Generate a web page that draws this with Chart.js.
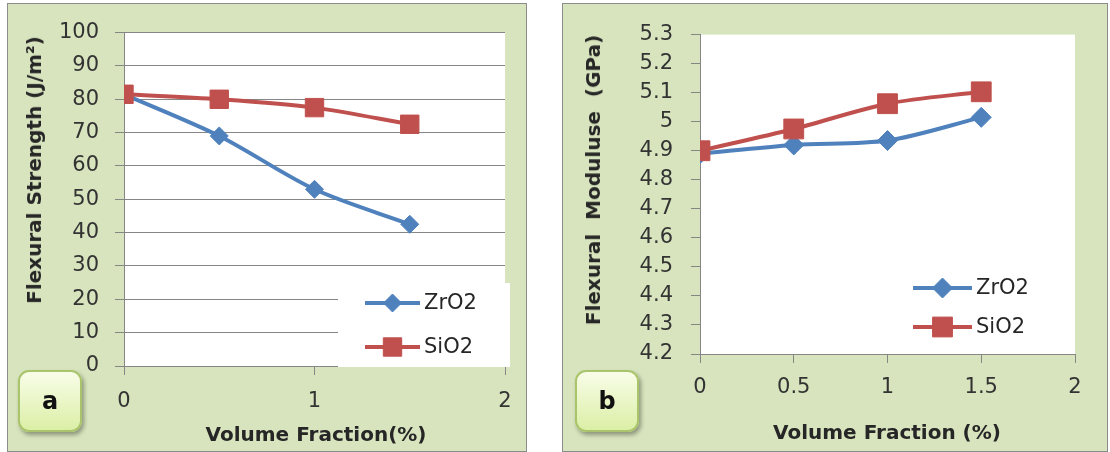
<!DOCTYPE html>
<html>
<head>
<meta charset="utf-8">
<script src="https://cdn.jsdelivr.net/npm/chart.js@4.4.0/dist/chart.umd.min.js"></script>
<style>
  body { margin: 0; width: 1110px; height: 452px; background: #fff; position: relative; overflow: hidden; font-family: "DejaVu Sans", sans-serif; }
  .panel { position: absolute; background: #D7E4BD; border: 1px solid #8c8c8c; box-sizing: border-box; }
  #pa { left: 7px; top: 3px; width: 520px; height: 449px; }
  #pb { left: 562px; top: 3px; width: 546px; height: 449px; }
  canvas { position: absolute; }
  .badge { position: absolute; width: 64px; height: 62px; border: 2px solid #a9c46a; border-radius: 11px; box-sizing: border-box;
           background: linear-gradient(#f8fde8, #dbefa6); box-shadow: 2px 3px 4px rgba(0,0,0,0.35);
           font: bold 24px "DejaVu Sans", sans-serif; color: #111; display: flex; align-items: center; justify-content: center; }
  .ytitle, .xtitle { position: absolute; white-space: pre; font: bold 20px "DejaVu Sans", sans-serif; color: #262626; }
  .ytitle { transform: translate(-50%, -50%) rotate(-90deg); }
  .xtitle { transform: translate(-50%, -50%); }
</style>
</head>
<body>
<div class="panel" id="pa"></div>
<div class="panel" id="pb"></div>
<canvas id="chartA" width="518" height="447" style="left:8px;top:4px"></canvas>
<canvas id="chartB" width="544" height="447" style="left:563px;top:4px"></canvas>

<div class="ytitle" style="left:34px;top:170px">Flexural Strength (J/m²)</div>
<div class="xtitle" style="left:316px;top:434px">Volume Fraction(%)</div>
<div class="ytitle" style="left:593px;top:180px">Flexural  Moduluse  (GPa)</div>
<div class="xtitle" style="left:887px;top:432px">Volume Fraction (%)</div>
<div class="badge" style="left:18px;top:370px">a</div>
<div class="badge" style="left:575px;top:370px">b</div>

<script>
// data
const xFraction = [0, 0.5, 1, 1.5];
const seriesNames = ['ZrO2', 'SiO2'];
const strengthZrO2 = [81.5, 69, 53, 42.5];
const strengthSiO2 = [81.5, 80, 77.5, 72.5];
const modulusZrO2 = [4.89, 4.92, 4.935, 5.015];
const modulusSiO2 = [4.9, 4.975, 5.062, 5.103];

const BLUE = '#4F81BD';
const RED = '#C0504D';
const AXIS = '#868686';

// white plot area
const plotBg = {
  id: 'plotBg',
  beforeDraw(chart) {
    const a = chart.chartArea, ctx = chart.ctx;
    ctx.save();
    ctx.fillStyle = '#fff';
    ctx.fillRect(a.left, a.top, a.right - a.left, a.bottom - a.top);
    ctx.restore();
  }
};

// legend drawn inside the plot, like the Excel one
const insideLegend = {
  id: 'insideLegend',
  afterDraw(chart, args, opts) {
    const ctx = chart.ctx;
    ctx.save();
    if (opts.box) {
      ctx.fillStyle = '#fff';
      ctx.fillRect(opts.box.left, opts.box.top, opts.box.width, opts.box.height);
    }
    chart.data.datasets.forEach((ds, i) => {
      const y = opts.rows[i];
      ctx.strokeStyle = ds.borderColor;
      ctx.fillStyle = ds.backgroundColor;
      ctx.lineWidth = ds.borderWidth;
      ctx.beginPath();
      ctx.moveTo(opts.x, y);
      ctx.lineTo(opts.x + opts.lineLength, y);
      ctx.stroke();
      ctx.lineWidth = 1;
      Chart.helpers.drawPoint(ctx, { pointStyle: ds.pointStyle, radius: ds.pointRadius, rotation: 0, borderWidth: 1 },
        opts.x + opts.lineLength / 2, y);
      ctx.fillStyle = '#262626';
      ctx.font = '21px "DejaVu Sans"';
      ctx.textBaseline = 'middle';
      ctx.fillText(ds.label, opts.x + opts.lineLength + 4, y + 1);
    });
    ctx.restore();
  }
};

function series(label, values, color, style, radius, order) {
  return {
    label: label,
    data: xFraction.map((x, i) => ({ x: x, y: values[i] })),
    borderColor: color,
    backgroundColor: color,
    borderWidth: 4,
    pointStyle: style,
    pointRadius: radius,
    pointBorderWidth: 1,
    tension: 0.3,
    order: order
  };
}

const tidy = v => String(Math.round(v * 10) / 10);

function makeOptions(o) {
  return {
    responsive: false,
    animation: false,
    layout: { padding: { left: 0, top: o.top, right: o.right, bottom: 0 } },
    plugins: { legend: { display: false }, tooltip: { enabled: false }, insideLegend: o.legend },
    scales: {
      x: {
        type: 'linear', min: 0, max: 2,
        ticks: { stepSize: o.xStep, color: '#333', font: { family: 'DejaVu Sans', size: 21 }, padding: o.xPad, callback: tidy },
        grid: { drawOnChartArea: false, color: AXIS, tickLength: 9 },
        border: { color: AXIS },
        afterFit(s) { s.height = o.xHeight; }
      },
      y: {
        min: o.yMin, max: o.yMax,
        ticks: { stepSize: o.yStep, color: '#333', font: { family: 'DejaVu Sans', size: 21 }, padding: o.yPad, callback: tidy },
        grid: { drawOnChartArea: o.yGrid, color: AXIS, tickLength: 9 },
        border: { color: AXIS },
        afterFit(s) { s.width = o.yWidth; }
      }
    }
  };
}

new Chart(document.getElementById('chartA'), {
  type: 'line',
  data: { datasets: [
    series(seriesNames[0], strengthZrO2, BLUE, 'rectRot', 9, 1),
    series(seriesNames[1], strengthSiO2, RED, 'rect', 13, 0)
  ] },
  options: makeOptions({
    top: 26, right: 21, xHeight: 85, yWidth: 116,
    xStep: 1, xPad: 14, yMin: 0, yMax: 100, yStep: 10, yPad: 16, yGrid: true,
    legend: { box: { left: 330, top: 279, width: 172, height: 84 }, x: 357, rows: [299, 343], lineLength: 55 }
  }),
  plugins: [plotBg, insideLegend]
});

new Chart(document.getElementById('chartB'), {
  type: 'line',
  data: { datasets: [
    series(seriesNames[0], modulusZrO2, BLUE, 'rectRot', 10, 1),
    series(seriesNames[1], modulusSiO2, RED, 'rect', 14, 0)
  ] },
  options: makeOptions({
    top: 17, right: 32, xHeight: 97, yWidth: 137,
    xStep: 0.5, xPad: 12, yMin: 4.2, yMax: 5.3, yStep: 0.1, yPad: 18, yGrid: false,
    legend: { x: 350, rows: [284, 323], lineLength: 59 }
  }),
  plugins: [plotBg, insideLegend]
});
</script>
</body>
</html>
